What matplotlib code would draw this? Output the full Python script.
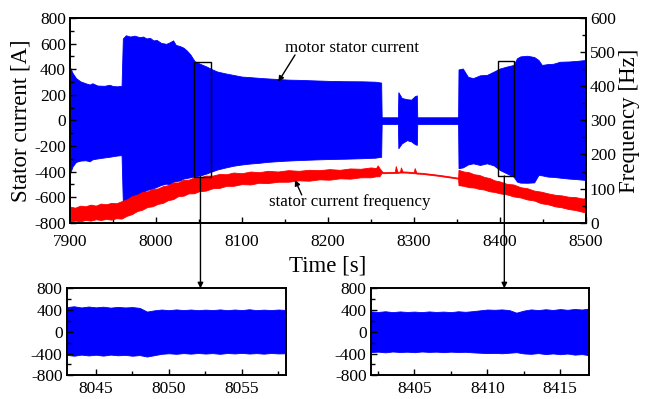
import matplotlib
matplotlib.use("Agg")
import matplotlib.pyplot as plt
import matplotlib.transforms as mtransforms
from matplotlib.patches import Rectangle, ConnectionPatch
from matplotlib.ticker import MultipleLocator

plt.rcParams['font.family'] = ['Liberation Serif', 'DejaVu Serif']
plt.rcParams['axes.unicode_minus'] = False

# ---------------- data ----------------
# main stator current envelope [A]
cur_t = [7900, 7903, 7907, 7912, 7918, 7923, 7926, 7930, 7932, 7940, 7946, 7950, 7955, 7960,
         7961.5, 7965, 7970, 7975, 7981, 7985, 7989, 7993, 7997, 8001, 8006, 8012, 8016, 8020,
         8023, 8028, 8032, 8036, 8040,
         8045, 8052, 8059, 8065, 8071, 8080, 8090, 8100, 8109, 8120, 8129, 8144, 8155, 8168,
         8185, 8203, 8220, 8240, 8255, 8262,
         8262.6, 8281.5,
         8282, 8286, 8292, 8297, 8301, 8303.5,
         8304, 8351.5,
         8352, 8357, 8363, 8369, 8377, 8385, 8393, 8400, 8408, 8416, 8420, 8424, 8432, 8440,
         8445, 8449, 8456, 8462, 8470, 8480, 8490, 8500]
cur_hi = [415, 370, 330, 305, 290, 280, 290, 278, 272, 270, 278, 268, 266, 270,
          640, 665, 655, 662, 650, 655, 640, 645, 625, 628, 605, 598, 610, 625,
          590, 580, 568, 545, 515,
          462, 440, 420, 400, 382, 368, 355, 342, 338, 332, 328, 322, 318, 316,
          312, 308, 306, 305, 302, 295,
          24, 24,
          220, 175, 165, 162, 188, 195,
          24, 24,
          398, 405, 340, 330, 352, 355, 381, 405, 420, 433, 485, 500, 505, 495,
          472, 433, 440, 442, 458, 460, 465, 472]
cur_lo = [-415, -360, -325, -315, -312, -320, -305, -300, -298, -290, -285, -280, -275, -272,
          -650, -640, -620, -600, -575, -565, -545, -538, -530, -520, -505, -495, -500, -480,
          -475, -470, -455, -450, -445,
          -438, -430, -415, -400, -385, -370, -355, -345, -338, -332, -325, -318, -314, -310,
          -306, -302, -300, -296, -292, -285,
          -28, -28,
          -218, -180, -155, -165, -185, -192,
          -28, -28,
          -374, -368, -345, -336, -349, -336, -352, -388, -414, -440, -479, -487, -488, -485,
          -427, -430, -440, -442, -448, -455, -460, -466]

# stator current frequency band [Hz]
freq_t = [7900, 7906, 7912, 7918, 7924, 7930, 7936, 7942, 7948, 7954, 7960, 7966, 7972, 7978,
          7984, 7990, 7996, 8002, 8008, 8014, 8020, 8026, 8032, 8038, 8044, 8050, 8058, 8066,
          8074, 8082, 8090, 8100, 8110, 8120, 8130, 8142, 8154, 8166, 8178, 8190, 8202, 8214,
          8226, 8238, 8250, 8256, 8258, 8260, 8262.5,
          8264, 8278, 8279, 8281, 8284, 8285, 8287, 8290, 8300, 8301, 8303, 8310,
          8330, 8351.5,
          8352, 8358, 8364, 8370, 8376, 8382, 8388, 8394, 8400, 8408, 8416, 8424, 8432, 8440,
          8448, 8456, 8464, 8472, 8480, 8488, 8496, 8500]
freq_hi = [47, 44, 50, 48, 53, 50, 56, 54, 58, 57, 63, 68, 78, 82,
           90, 92, 99, 100, 107, 110, 118, 118, 126, 126, 132, 132, 138, 138,
           143, 142, 147, 145, 150, 148, 152, 150, 154, 152, 155, 154, 157, 155,
           159, 158, 162, 160, 168, 160, 152,
           148, 149, 166, 149, 150, 162, 150, 150, 148, 160, 147, 146,
           140, 132,
           155, 150, 148, 142, 140, 134, 131, 124, 121, 114, 112, 104, 101, 94,
           91, 86, 82, 80, 76, 75, 71, 72]
freq_lo = [3, 6, 4, 8, 6, 10, 8, 11, 9, 13, 12, 20, 25, 34,
           38, 46, 48, 55, 58, 66, 69, 78, 79, 86, 86, 92, 94, 101,
           102, 108, 108, 113, 112, 117, 116, 120, 120, 124, 123, 127, 126, 130,
           129, 133, 133, 136, 136, 136, 146,
           145, 146, 146, 146, 147, 147, 147, 147, 145, 145, 144, 143,
           137, 129,
           110, 108, 104, 103, 99, 97, 92, 90, 86, 83, 77, 74, 68, 65,
           57, 54, 48, 45, 40, 37, 32, 30]

# zoomed windows [A]
zoomL_t = [8043, 8043.5, 8044, 8044.5, 8045, 8045.5, 8046, 8046.5, 8047, 8047.5, 8048,
           8048.5, 8049, 8049.5, 8050, 8050.5, 8051, 8051.5, 8052, 8052.5, 8053, 8053.5,
           8054, 8054.5, 8055, 8055.5, 8056, 8056.5, 8057, 8057.5, 8058]
zoomL_hi = [455, 470, 448, 465, 450, 462, 445, 458, 448, 455, 440,
            372, 395, 410, 398, 412, 400, 410, 398, 408, 400, 412,
            398, 410, 400, 415, 398, 408, 400, 410, 402]
zoomL_lo = [-425, -440, -420, -435, -422, -438, -420, -432, -425, -440, -428,
            -455, -430, -405, -395, -405, -392, -402, -390, -400, -392, -405,
            -390, -398, -388, -400, -392, -402, -390, -398, -395]

zoomR_t = [8402, 8402.5, 8403, 8403.5, 8404, 8404.5, 8405, 8405.5, 8406, 8406.5, 8407,
           8407.5, 8408, 8408.5, 8409, 8409.5, 8410, 8410.5, 8411, 8411.5, 8412, 8412.5,
           8413, 8413.5, 8414, 8414.5, 8415, 8415.5, 8416, 8416.5, 8417]
zoomR_hi = [375, 365, 378, 362, 375, 365, 372, 362, 375, 365, 372,
            362, 378, 368, 380, 395, 410, 405, 412, 400, 352, 390,
            412, 400, 415, 402, 418, 405, 420, 410, 428]
zoomR_lo = [-372, -365, -378, -362, -372, -366, -375, -362, -370, -365, -375,
            -365, -372, -368, -378, -385, -392, -388, -395, -385, -375, -398,
            -405, -392, -410, -398, -412, -400, -420, -410, -432]

x_ticks_main = [7900, 8000, 8100, 8200, 8300, 8400, 8500]
y_ticks_main = [-800, -600, -400, -200, 0, 200, 400, 600, 800]
y_ticks_freq = [0, 100, 200, 300, 400, 500, 600]
x_ticks_L = [8045, 8050, 8055]
x_ticks_R = [8405, 8410, 8415]
y_ticks_zoom = [-800, -400, 0, 400, 800]

# zoom windows marked on the main plot (time range, current range)
boxL_t = (8044.6, 8063.7)
boxL_a = (-440, 455)
boxR_t = (8398.3, 8416.9)
boxR_a = (-435, 460)

# ---------------- figure ----------------
BLUE = '#0000ff'
RED = '#ff0000'
fig = plt.figure(figsize=(6.48, 3.99), dpi=100)

ax = fig.add_axes([0.1080, 0.4419, 0.7959, 0.5130])
ax.fill_between(cur_t, cur_lo, cur_hi, color=BLUE, lw=0.6, edgecolor=BLUE)
ax.set_xlim(7900, 8500)
ax.set_ylim(-800, 800)
ax.set_xticks(x_ticks_main)
ax.set_yticks(y_ticks_main)
ax.xaxis.set_minor_locator(MultipleLocator(50))
ax.yaxis.set_minor_locator(MultipleLocator(100))
ax.set_ylabel('Stator current [A]', fontsize=16.5, labelpad=2)
ax.set_xlabel('Time [s]', fontsize=16.5, labelpad=4)

ax2 = ax.twinx()
ax2.fill_between(freq_t, freq_lo, freq_hi, color=RED, lw=0.6, edgecolor=RED)
ax2.set_ylim(0, 600)
ax2.set_yticks(y_ticks_freq)
ax2.yaxis.set_minor_locator(MultipleLocator(50))
ax2.set_ylabel('Frequency [Hz]', fontsize=16.5, labelpad=2)

for a in (ax, ax2):
    a.tick_params(which='both', direction='in', labelsize=12.5, width=1.0,
                  top=False, pad=3)
    a.tick_params(which='major', length=4)
    a.tick_params(which='minor', length=3)
    for s in a.spines.values():
        s.set_linewidth(1.4)
ax.tick_params(which='both', right=False)
ax.tick_params(axis='x', pad=8)

# annotations
ax.text(8228, 566, 'motor stator current', fontsize=12.2, ha='center', va='center')
ax.annotate('', xy=(8142.4, 302), xytext=(8161.8, 511),
            arrowprops=dict(arrowstyle='-|>', color='black', lw=1.0,
                            mutation_scale=8, shrinkA=0, shrinkB=0))
ax.text(8226, -635, 'stator current frequency', fontsize=12.2, ha='center', va='center')

# the frequency arrow and the boxes must sit above the red band: draw on ax2
to2 = lambda p: tuple(ax2.transData.inverted().transform(ax.transData.transform(p)))
ax2.annotate('', xy=to2((8161.8, -466)), xytext=to2((8169.6, -583)),
             arrowprops=dict(arrowstyle='-|>', color='black', lw=1.0,
                             mutation_scale=8, shrinkA=0, shrinkB=0))
for bt, ba in ((boxL_t, boxL_a), (boxR_t, boxR_a)):
    p0 = to2((bt[0], ba[0]))
    p1 = to2((bt[1], ba[1]))
    ax2.add_patch(Rectangle(p0, p1[0] - p0[0], p1[1] - p0[1],
                            fill=False, ec='black', lw=1.0, zorder=10))

# insets
axL = fig.add_axes([0.1029, 0.0594, 0.3380, 0.2180])
axR = fig.add_axes([0.5721, 0.0594, 0.3373, 0.2180])
for a, t, hi, lo, xl, xt in ((axL, zoomL_t, zoomL_hi, zoomL_lo, (8043, 8058), x_ticks_L),
                             (axR, zoomR_t, zoomR_hi, zoomR_lo, (8402, 8417), x_ticks_R)):
    a.fill_between(t, lo, hi, color=BLUE, lw=0.6, edgecolor=BLUE)
    a.set_xlim(*xl)
    a.set_ylim(-800, 800)
    a.set_xticks(xt)
    a.set_yticks(y_ticks_zoom)
    a.xaxis.set_minor_locator(MultipleLocator(2.5))
    a.yaxis.set_minor_locator(MultipleLocator(200))
    a.tick_params(which='both', direction='in', labelsize=12.5, width=1.0, pad=3)
    a.tick_params(axis='x', pad=4)
    a.tick_params(which='major', length=4)
    a.tick_params(which='minor', length=3)
    for s in a.spines.values():
        s.set_linewidth(1.4)

# connector arrows from boxes to insets
for a_in, xc, yb in ((axL, 8051.8, boxL_a[0]), (axR, 8405.3, boxR_a[0])):
    trB = mtransforms.blended_transform_factory(ax.transData, a_in.transAxes)
    con = ConnectionPatch(xyA=(xc, yb), coordsA=ax.transData,
                          xyB=(xc, 1.0), coordsB=trB,
                          arrowstyle='-|>', color='black', lw=1.0,
                          mutation_scale=8, shrinkA=0, shrinkB=0)
    fig.add_artist(con)

fig.savefig('out.png', dpi=100)
